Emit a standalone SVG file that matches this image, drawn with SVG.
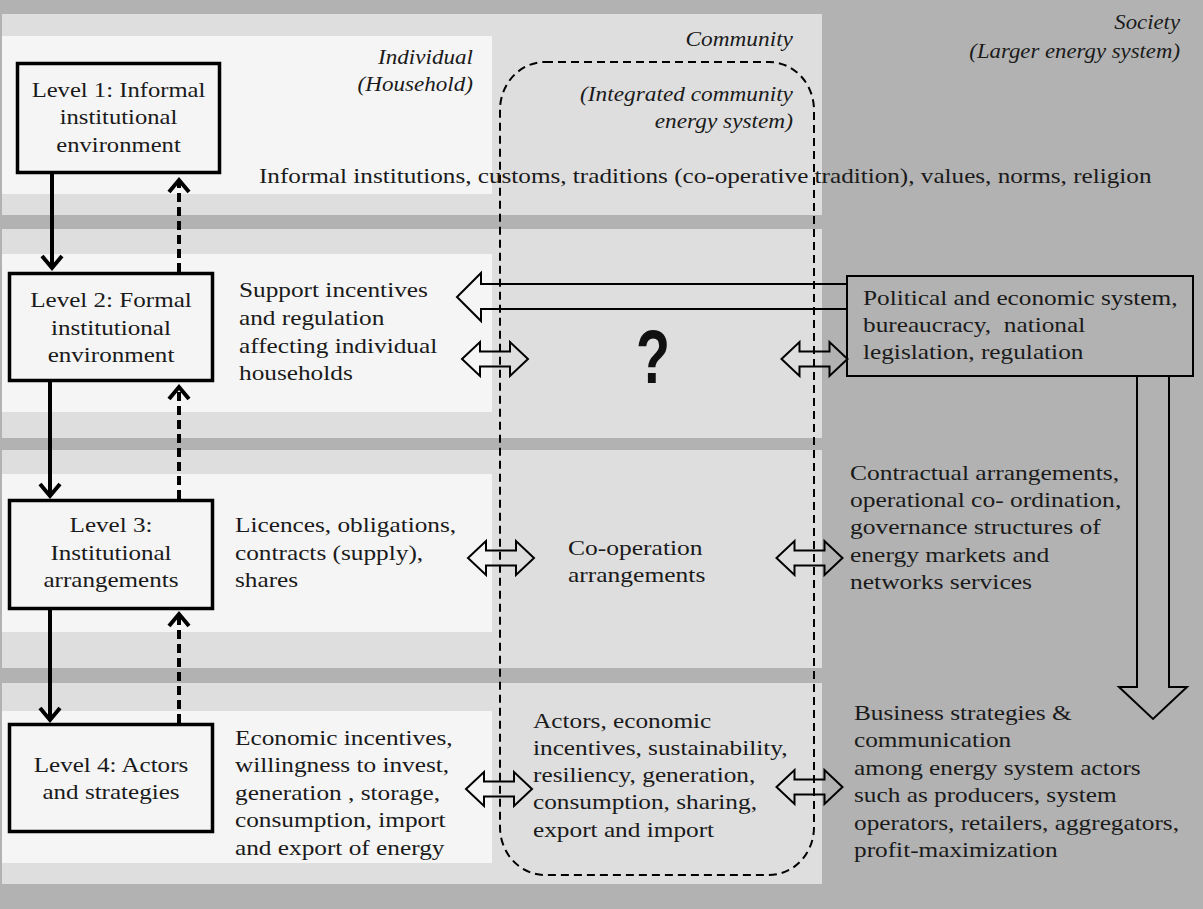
<svg xmlns="http://www.w3.org/2000/svg" width="1203" height="909" viewBox="0 0 1203 909">
<style>
.t{font-family:"Liberation Serif","Times New Roman",serif;font-size:22px;fill:#1a1a1a}
.c{text-anchor:middle}
.e{text-anchor:end}
.i{font-style:italic}
.dark{fill:#b2b2b2}
.comm{fill:#dedede}
.ind{fill:#f5f5f5}
.lvl{fill:#f5f5f5;stroke:#000;stroke-width:3.5}
.soc{fill:#b2b2b2;stroke:#000;stroke-width:2}
.blk{fill:none;stroke:#000;stroke-width:2;stroke-linejoin:miter}
.down{fill:none;stroke:#000;stroke-width:4;marker-end:url(#chev)}
.up{fill:none;stroke:#000;stroke-width:4;stroke-dasharray:9 5;marker-end:url(#chev)}
.ices{fill:none;stroke:#000;stroke-width:2;stroke-dasharray:8 5}
</style>
<defs>
<marker id="chev" viewBox="-16 -14 20 28" refX="0" refY="0" markerWidth="20" markerHeight="28" markerUnits="userSpaceOnUse" orient="auto">
<path d="M -12 -10 L 0 0 L -12 10" fill="none" stroke="#000" stroke-width="4" stroke-dasharray="none"/>
</marker>
<path id="dbl" d="M -33 0 L -15 -17 L -15 -7.5 L 15 -7.5 L 15 -17 L 33 0 L 15 17 L 15 7.5 L -15 7.5 L -15 17 Z"/>
</defs>

<g id="background">
<rect class="dark" x="0" y="0" width="1203" height="909"/>
<rect class="comm" x="2" y="14" width="820" height="201"/>
<rect class="comm" x="2" y="229" width="820" height="209"/>
<rect class="comm" x="2" y="450" width="820" height="218"/>
<rect class="comm" x="2" y="683" width="820" height="201"/>
<rect class="ind" x="2" y="36" width="490" height="158"/>
<rect class="ind" x="2" y="254" width="490" height="158"/>
<rect class="ind" x="2" y="474" width="490" height="158"/>
<rect class="ind" x="2" y="711" width="490" height="152"/>
</g>

<g id="scope-labels">
<g transform="matrix(1.05 0 0 1 -23.65 0)">
<text class="t i e" x="473" y="64">Individual</text>
<text class="t i e" x="473" y="91">(Household)</text>
</g>
<g transform="matrix(1.06 0 0 1 -47.6 0)">
<text class="t i e" x="793" y="46">Community</text>
<text class="t i e" x="793" y="101">(Integrated community</text>
<text class="t i e" x="793" y="128">energy system)</text>
</g>
<g transform="matrix(1.035 0 0 1 -41.3 0)">
<text class="t i e" x="1180" y="29">Society</text>
<text class="t i e" x="1180" y="58">(Larger energy system)</text>
</g>
</g>

<rect id="community-system" class="ices" x="500" y="62" width="314" height="813" rx="45" ry="48"/>

<g id="level1">
<rect class="lvl" x="17.5" y="63.5" width="202" height="109"/>
<g transform="matrix(1.12 0 0 1 -14.22 0)">
<text class="t c" x="118.5" y="97">Level 1: Informal</text>
<text class="t c" x="118.5" y="124">institutional</text>
<text class="t c" x="118.5" y="152">environment</text>
</g>
</g>
<g id="level2">
<rect class="lvl" x="9.5" y="273.5" width="203" height="107"/>
<g transform="matrix(1.14 0 0 1 -15.54 0)">
<text class="t c" x="111" y="307">Level 2: Formal</text>
<text class="t c" x="111" y="335">institutional</text>
<text class="t c" x="111" y="362">environment</text>
</g>
</g>
<g id="level3">
<rect class="lvl" x="9.5" y="500.5" width="203" height="108"/>
<g transform="matrix(1.14 0 0 1 -15.54 0)">
<text class="t c" x="111" y="532">Level 3:</text>
<text class="t c" x="111" y="560">Institutional</text>
<text class="t c" x="111" y="587">arrangements</text>
</g>
</g>
<g id="level4">
<rect class="lvl" x="9.5" y="724.5" width="203" height="107"/>
<g transform="matrix(1.14 0 0 1 -15.54 0)">
<text class="t c" x="111" y="772">Level 4: Actors</text>
<text class="t c" x="111" y="799">and strategies</text>
</g>
</g>

<g id="informal-institutions" transform="matrix(1.145 0 0 1 -37.56 0)">
<text class="t" x="259" y="183">Informal institutions, customs, traditions (co-operative tradition), values, norms, religion</text>
</g>
<g id="support-incentives" transform="matrix(1.15 0 0 1 -35.85 0)">
<text class="t" x="239" y="297">Support incentives</text>
<text class="t" x="239" y="325">and regulation</text>
<text class="t" x="239" y="353">affecting individual</text>
<text class="t" x="239" y="380">households</text>
</g>
<g id="question">
<text x="653" y="383" text-anchor="middle" font-family="Liberation Sans, Arial, sans-serif" font-weight="bold" font-size="76" fill="#111" textLength="34" lengthAdjust="spacingAndGlyphs">?</text>
</g>
<g id="political-system">
<rect class="soc" x="847" y="276" width="346" height="100"/>
<g transform="matrix(1.15 0 0 1 -129.45 0)">
<text class="t" x="863" y="305">Political and economic system,</text>
<text class="t" x="863" y="332" xml:space="preserve">bureaucracy,  national</text>
<text class="t" x="863" y="359">legislation, regulation</text>
</g>
</g>
<g id="licences" transform="matrix(1.15 0 0 1 -35.25 0)">
<text class="t" x="235" y="532">Licences, obligations,</text>
<text class="t" x="235" y="560">contracts (supply),</text>
<text class="t" x="235" y="587">shares</text>
</g>
<g id="cooperation" transform="matrix(1.16 0 0 1 -90.88 0)">
<text class="t" x="568" y="555">Co-operation</text>
<text class="t" x="568" y="582">arrangements</text>
</g>
<g id="contractual" transform="matrix(1.16 0 0 1 -136 0)">
<text class="t" x="850" y="480">Contractual arrangements,</text>
<text class="t" x="850" y="507">operational co- ordination,</text>
<text class="t" x="850" y="534">governance structures of</text>
<text class="t" x="850" y="562">energy markets and</text>
<text class="t" x="850" y="589">networks services</text>
</g>
<g id="economic-incentives" transform="matrix(1.15 0 0 1 -35.25 0)">
<text class="t" x="235" y="745">Economic incentives,</text>
<text class="t" x="235" y="772">willingness to invest,</text>
<text class="t" x="235" y="800">generation , storage,</text>
<text class="t" x="235" y="827">consumption, import</text>
<text class="t" x="235" y="855">and export of energy</text>
</g>
<g id="community-actors" transform="matrix(1.15 0 0 1 -79.95 0)">
<text class="t" x="533" y="728">Actors, economic</text>
<text class="t" x="533" y="755">incentives, sustainability,</text>
<text class="t" x="533" y="782">resiliency, generation,</text>
<text class="t" x="533" y="809">consumption, sharing,</text>
<text class="t" x="533" y="837">export and import</text>
</g>
<g id="business" transform="matrix(1.15 0 0 1 -128.1 0)">
<text class="t" x="854" y="720">Business strategies &amp;</text>
<text class="t" x="854" y="747">communication</text>
<text class="t" x="854" y="775">among energy system actors</text>
<text class="t" x="854" y="802">such as producers, system</text>
<text class="t" x="854" y="830">operators, retailers, aggregators,</text>
<text class="t" x="854" y="857">profit-maximization</text>
</g>

<g id="connectors">
<path class="down" d="M 52 174 L 52 268"/>
<path class="up" d="M 179 272 L 179 180"/>
<path class="down" d="M 50 382 L 50 496"/>
<path class="up" d="M 179 499 L 179 387"/>
<path class="down" d="M 50 610 L 50 720"/>
<path class="up" d="M 179 723 L 179 614"/>
<polygon class="blk" points="847,284 481,284 481,273 457,297 481,321 481,309 847,309"/>
<polygon class="blk" points="1137,376 1137,687 1119,687 1153,719 1187,687 1169,687 1169,376"/>
<use class="blk" href="#dbl" x="495" y="359"/>
<use class="blk" href="#dbl" x="814.5" y="359"/>
<use class="blk" href="#dbl" x="501" y="558"/>
<use class="blk" href="#dbl" x="809.5" y="558"/>
<use class="blk" href="#dbl" x="499" y="789"/>
<use class="blk" href="#dbl" x="809.5" y="787"/>
</g>
</svg>
